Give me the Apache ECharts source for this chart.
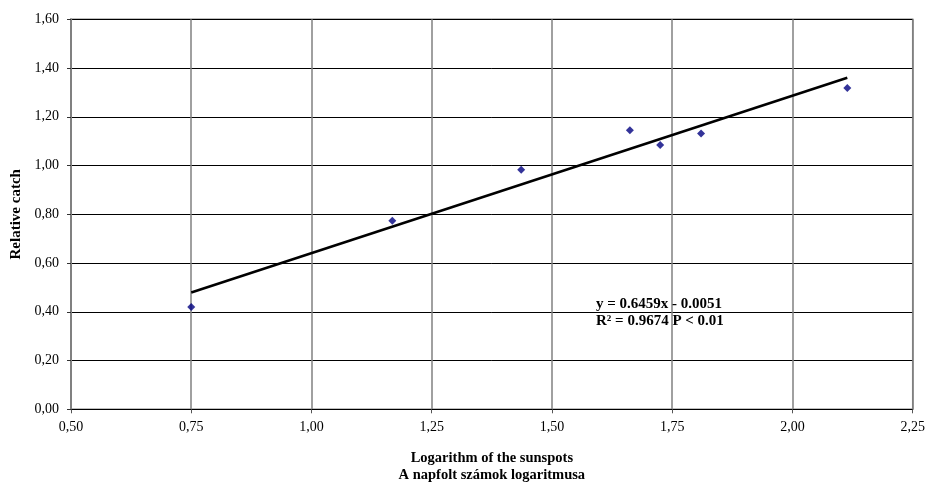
<!DOCTYPE html>
<html>
<head>
<meta charset="utf-8">
<script src="https://cdn.jsdelivr.net/npm/echarts@6/dist/echarts.min.js"></script>
<style>html,body{margin:0;padding:0;background:#fff}#c{width:927px;height:484px}</style>
</head>
<body>
<div id="c"></div>
<script>
// Data
var pointsX = [0.75, 1.168, 1.436, 1.662, 1.725, 1.810, 2.114];
var pointsY = [0.42, 0.774, 0.983, 1.145, 1.084, 1.132, 1.318];
var trendX = [0.75, 2.114];
var trendY = [0.479, 1.360];
var xTicks = {min: 0.5, max: 2.25, interval: 0.25};
var yTicks = {min: 0, max: 1.6, interval: 0.2};
var xTitle = 'Logarithm of the sunspots\nA napfolt számok logaritmusa';
var yTitle = 'Relative catch';
var eqLine1 = 'y = 0.6459x - 0.0051';
var eqLine2 = 'R² = 0.9674 P < 0.01';

var font = '"Liberation Serif", "Times New Roman", serif';
function comma(v){ return v.toFixed(2).replace('.', ','); }

var chart = echarts.init(document.getElementById('c'));
chart.setOption({
  animation: false,
  backgroundColor: '#fff',
  grid: {left: 71, right: 14.3, top: 19.3, bottom: 74.7, show: true, borderColor: '#808080', borderWidth: 1.5,
         containLabel: false, outerBoundsMode: 'none'},
  xAxis: {
    type: 'value', min: xTicks.min, max: xTicks.max, interval: xTicks.interval,
    name: xTitle, nameLocation: 'middle', nameGap: 40,
    nameTextStyle: {fontFamily: font, fontWeight: 'bold', fontSize: 14.5, color: '#000', lineHeight: 17, verticalAlign: 'top'},
    axisLine: {show: true, onZero: false, lineStyle: {color: '#000', width: 1}},
    axisTick: {show: true, length: 4, lineStyle: {color: '#555'}},
    axisLabel: {fontFamily: font, fontSize: 14, color: '#000', margin: 11, formatter: comma},
    splitLine: {show: true, lineStyle: {color: '#808080', width: 1.5}}
  },
  yAxis: {
    type: 'value', min: yTicks.min, max: yTicks.max, interval: yTicks.interval,
    name: yTitle, nameLocation: 'middle', nameGap: 46, nameRotate: 90,
    nameTextStyle: {fontFamily: font, fontWeight: 'bold', fontSize: 15, color: '#000'},
    axisLine: {show: true, lineStyle: {color: '#808080', width: 2}},
    axisTick: {show: true, length: 4, lineStyle: {color: '#333'}},
    axisLabel: {fontFamily: font, fontSize: 14, color: '#000', margin: 12, formatter: comma},
    splitLine: {show: true, lineStyle: {color: '#000', width: 1}}
  },
  series: [
    {
      type: 'line', data: trendX.map(function(x, i){ return [x, trendY[i]]; }),
      showSymbol: false, symbol: 'none', lineStyle: {color: '#000', width: 2.5}, z: 3
    },
    {
      type: 'scatter', data: pointsX.map(function(x, i){ return [x, pointsY[i]]; }),
      symbol: 'diamond', symbolSize: 8, itemStyle: {color: '#000080'}, z: 4
    }
  ],
  graphic: [
    {type: 'text', left: 596, top: 297, z: 10, style: {text: eqLine1, font: 'bold 15px ' + font, fill: '#000'}},
    {type: 'text', left: 596, top: 314, z: 10, style: {text: eqLine2, font: 'bold 15px ' + font, fill: '#000'}}
  ]
});
</script>
</body>
</html>
